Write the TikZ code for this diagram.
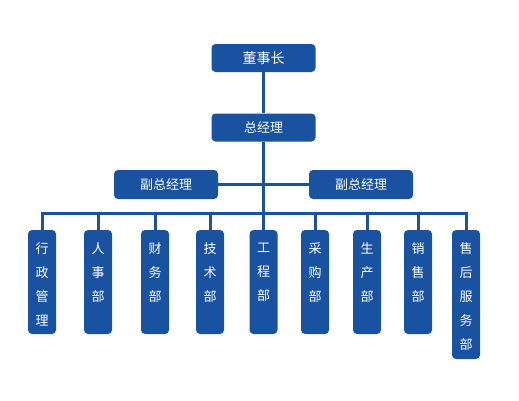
\documentclass[tikz,border=0pt]{standalone}
\usepackage{fontspec}
\setmainfont{Noto Sans CJK SC}
\definecolor{orgblue}{RGB}{24,82,160}
\begin{document}
\begin{tikzpicture}[x=1pt,y=-1pt]
\tikzset{
  box/.style={fill=orgblue, rounded corners=4pt, text=white, inner sep=0pt, minimum width=104pt, font=\fontsize{13}{13}\selectfont},
  dept/.style={fill=orgblue, rounded corners=4pt, inner sep=0pt, minimum width=28pt},
  vtext/.style={text=white, align=center, inner sep=0pt, anchor=north, font=\fontsize{13}{24}\selectfont},
  conn/.style={draw=orgblue, line width=3pt}
}
\useasboundingbox (0,0) rectangle (519,400);
\coordinate (bus) at (263.5,213);
\node[box, minimum height=28pt, font=\fontsize{14}{14}\selectfont] (ceo) at (263.5,58) {董事长};
\node[box, minimum height=28pt] (gm) at (263.5,127.5) {总经理};
\node[box, minimum height=29pt] (vp1) at (166,184.5) {副总经理};
\node[box, minimum height=29pt] (vp2) at (361,184.5) {副总经理};
\foreach \i/\x in {1/42,2/98,3/155,4/210,5/263.5,6/315,7/367,8/418}{
  \node[dept, minimum height=104pt] (d\i) at (\x,282) {};
}
\node[dept, minimum height=129pt] (d9) at (466,294.5) {};
\draw[conn] (ceo.south) -- (gm.north);
\draw[conn] (gm.south) -- (d5.north);
\draw[conn] (vp1.east) -- (vp2.west);
\draw[conn] (d1.north) |- (bus) -| (d9.north);
\foreach \i in {2,3,4,6,7,8}{
  \draw[conn] (d\i.north) -- (d\i.north |- bus);
}
\node[vtext] (t1) at ([yshift=-13pt]d1.north) {行\\政\\管\\理};
\node[vtext] (t2) at ([yshift=-13pt]d2.north) {人\\事\\部};
\node[vtext] (t3) at ([yshift=-13pt]d3.north) {财\\务\\部};
\node[vtext] (t4) at ([yshift=-13pt]d4.north) {技\\术\\部};
\node[vtext] (t5) at ([yshift=-13pt]d5.north) {工\\程\\部};
\node[vtext] (t6) at ([yshift=-13pt]d6.north) {采\\购\\部};
\node[vtext] (t7) at ([yshift=-13pt]d7.north) {生\\产\\部};
\node[vtext] (t8) at ([yshift=-13pt]d8.north) {销\\售\\部};
\node[vtext] (t9) at ([yshift=-13pt]d9.north) {售\\后\\服\\务\\部};
\end{tikzpicture}
\end{document}
